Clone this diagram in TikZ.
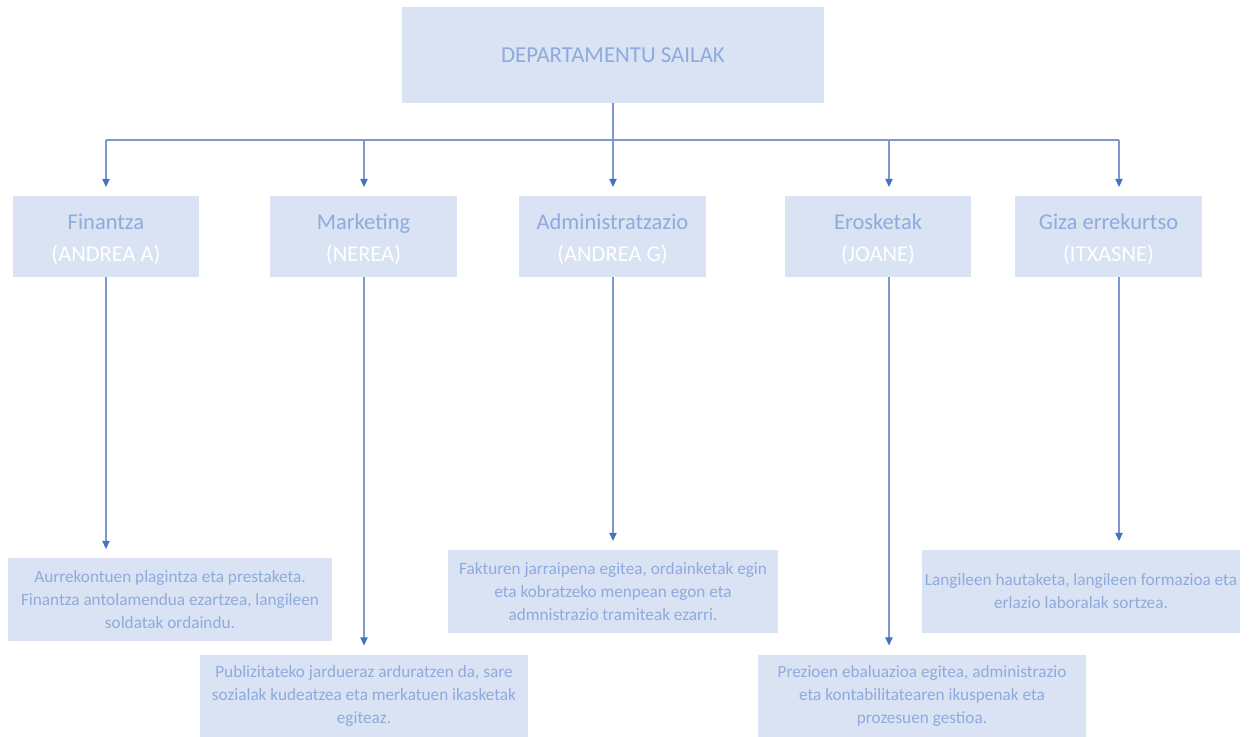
\documentclass[tikz,border=0pt]{standalone}
\usepackage{fontspec}
\setmainfont{Carlito}
\usepackage{xcolor}
\definecolor{boxfill}{RGB}{218,227,243}
\definecolor{boxtext}{RGB}{143,170,220}
\definecolor{linkline}{RGB}{125,152,207}
\definecolor{linktip}{RGB}{68,114,196}
\usetikzlibrary{arrows.meta}
\usetikzlibrary{positioning}

\begin{document}
\begin{tikzpicture}[x=0.02cm, y=-0.02cm,
	box/.style={fill=boxfill, text=boxtext, inner sep=0pt, align=center},
	titlebox/.style={box, minimum width=8.44cm, minimum height=1.92cm, font=\fontsize{13}{16}\selectfont},
	deptbox/.style={box, minimum width=3.74cm, minimum height=1.62cm, text height=31.5pt, text depth=2.5pt, font=\fontsize{12.8}{18.7}\selectfont},
	descbox/.style={box, minimum height=1.66cm, font=\fontsize{9.8}{13}\selectfont},
	link/.style={draw=linkline, line width=0.6pt},
	arrow/.style={link, -{Triangle[width=4.2pt,length=4.5pt,color=linktip]}, shorten >=5pt}]
		\useasboundingbox (0,0) rectangle (1249,737);
		
		%title
		\node[titlebox] (title) at (613,55) {DEPARTAMENTU SAILAK};
		
		%departments
		\node[deptbox] (fin) at (106,236.5) {Finantza\\ \textcolor{white}{(ANDREA A)}};
		\node[deptbox] (mark) at (363.5,236.5) {Marketing\\ \textcolor{white}{(NEREA)}};
		\node[deptbox] (admin) at (612.5,236.5) {Administratzazio\\ \textcolor{white}{(ANDREA G)}};
		\node[deptbox] (eros) at (878,236.5) {Erosketak\\ \textcolor{white}{(JOANE)}};
		\node[deptbox] (giza) at (1108.5,236.5) {Giza errekurtso\\ \textcolor{white}{(ITXASNE)}};
		
		%tasks
		\node[descbox, minimum width=6.48cm] (fdesc) at (170,599.5) {Aurrekontuen plagintza eta prestaketa.\\ Finantza antolamendua ezartzea, langileen\\ soldatak ordaindu.};
		\node[descbox, minimum width=6.56cm] (mdesc) at (364,696) {Publizitateko jardueraz arduratzen da, sare\\ sozialak kudeatzea eta merkatuen ikasketak\\ egiteaz.};
		\node[descbox, minimum width=6.6cm] (adesc) at (613,591.5) {Fakturen jarraipena egitea, ordainketak egin\\ eta kobratzeko menpean egon eta\\ admnistrazio tramiteak ezarri.};
		\node[descbox, minimum width=6.56cm] (edesc) at (922,696) {Prezioen ebaluazioa egitea, administrazio\\ eta kontabilitatearen ikuspenak eta\\ prozesuen gestioa.};
		\node[descbox, minimum width=6.36cm] (gdesc) at (1081,591.5) {Langileen hautaketa, langileen formazioa eta\\ erlazio laboralak sortzea.};
		
		%bus line
		\coordinate (bus) at (613,140);
		\coordinate (b1) at (106,140);
		\coordinate (b2) at (364,140);
		\coordinate (b3) at (613,140);
		\coordinate (b4) at (889,140);
		\coordinate (b5) at (1119,140);
		\draw[link] (title.south) -- (bus);
		\draw[link] (b1) -- (b5);
		
		%arrows
		\foreach \b/\d/\t in {b1/fin/fdesc, b2/mark/mdesc, b3/admin/adesc, b4/eros/edesc, b5/giza/gdesc}
		{
			\draw[arrow] (\b) -- (\b |- \d.north);
			\draw[arrow] (\b |- \d.south) -- (\b |- \t.north);
		}
\end{tikzpicture}
\end{document}
